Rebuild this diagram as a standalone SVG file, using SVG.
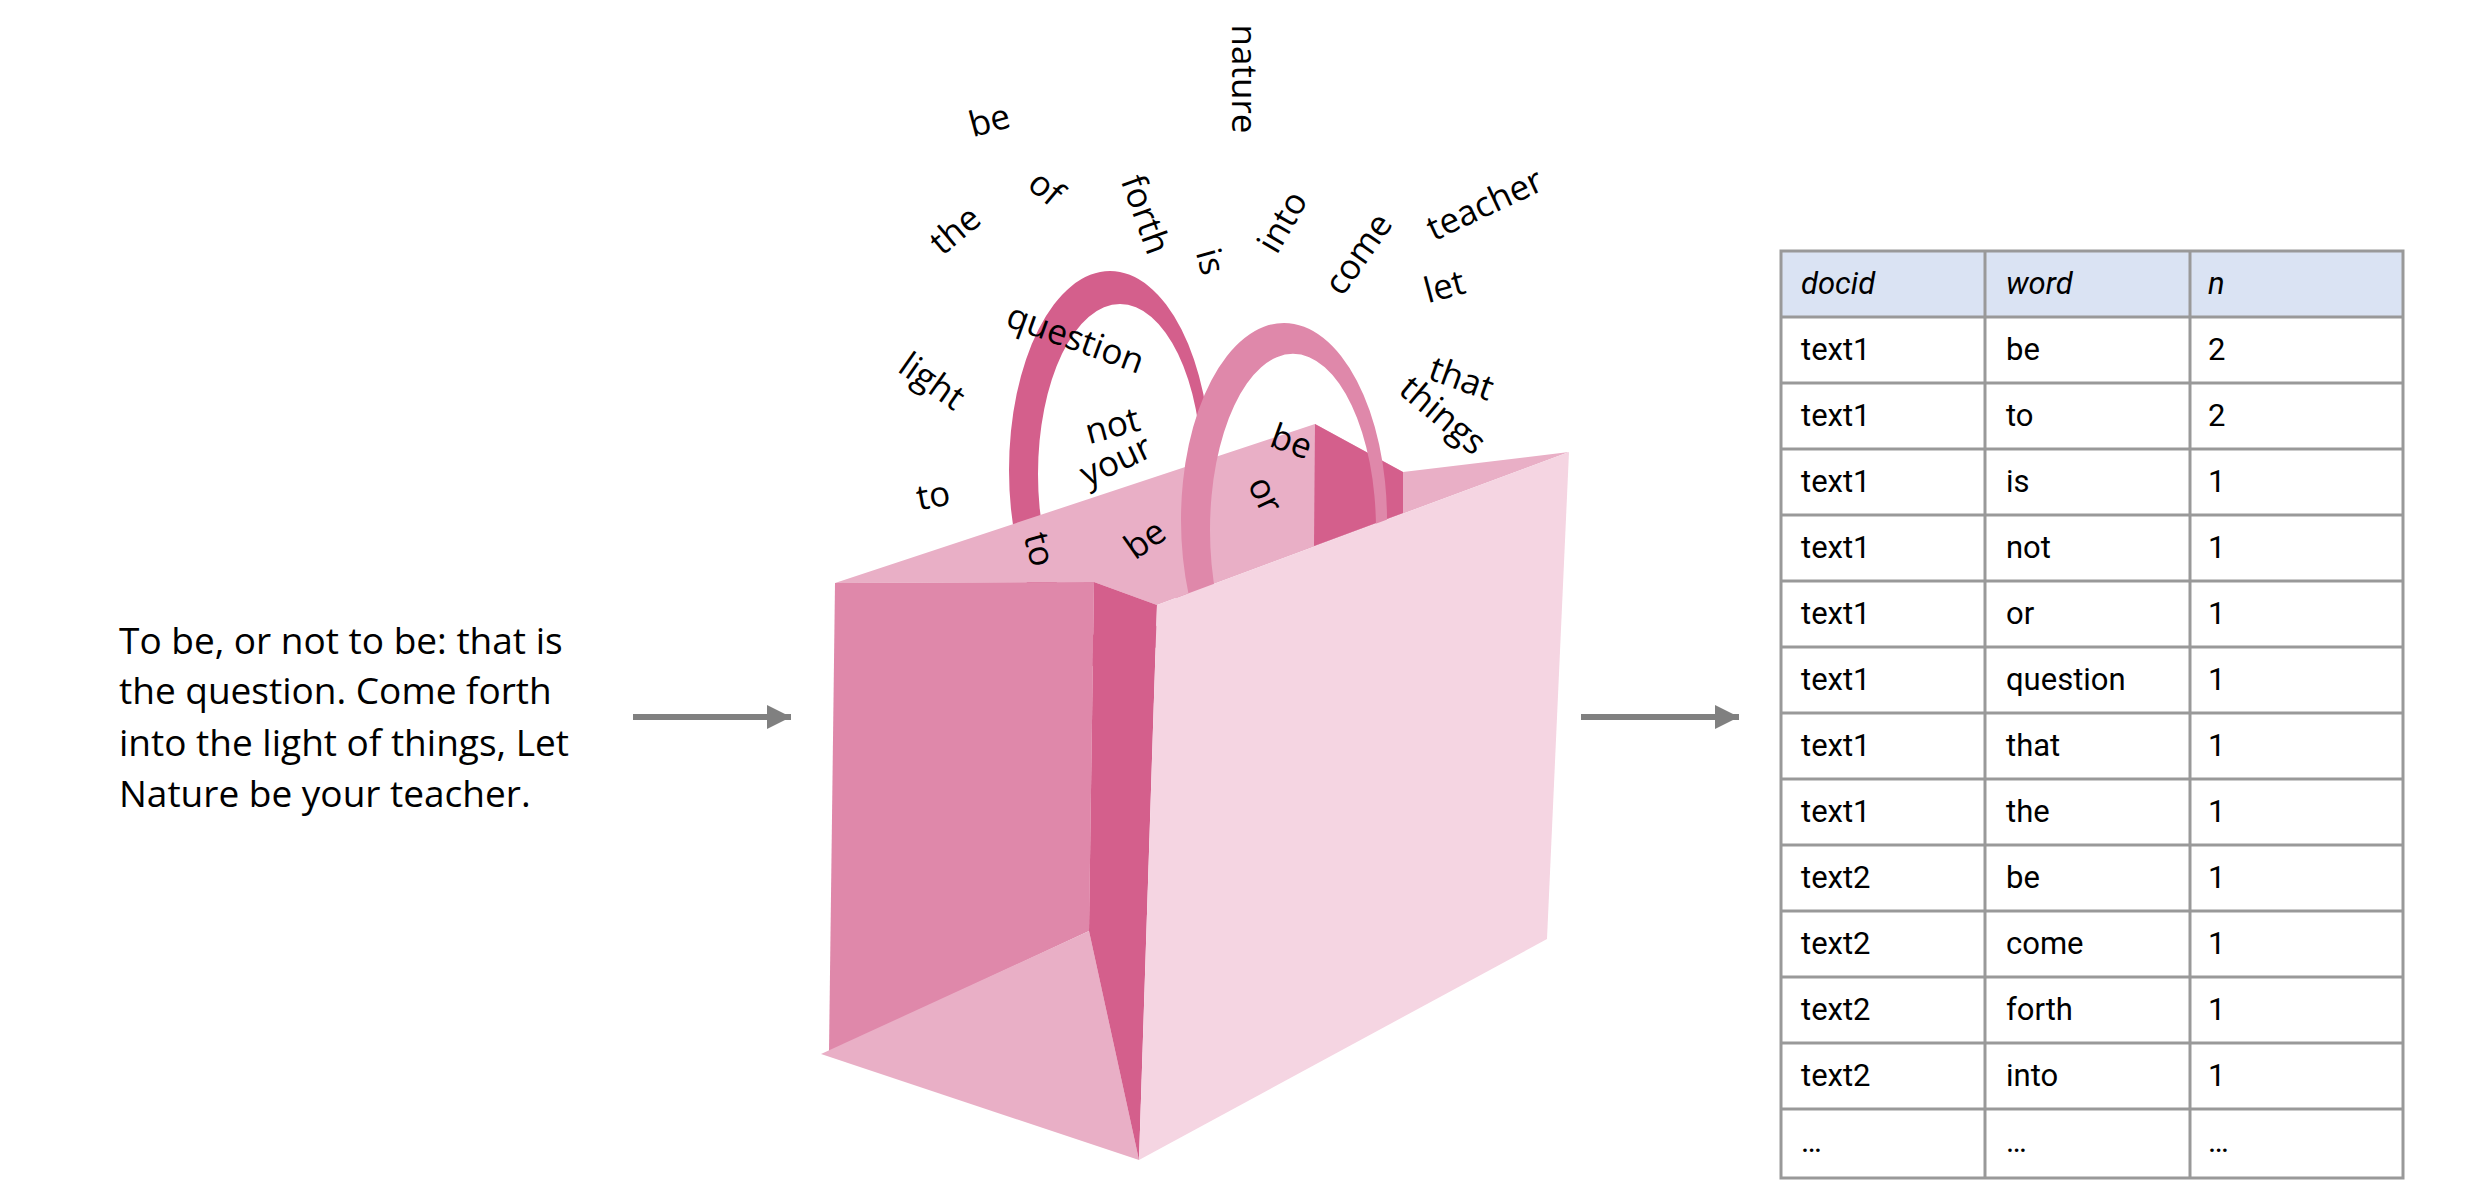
<svg xmlns="http://www.w3.org/2000/svg" width="2481" height="1188" viewBox="0 0 2481 1188">
<style>
.w{font-family:"Open Sans","Liberation Sans",sans-serif;font-size:35px;fill:#000;text-anchor:middle;dominant-baseline:central}
.src{font-family:"Open Sans","Liberation Sans",sans-serif;font-size:37px;fill:#000}
.t{font-family:Roboto,"Liberation Sans",sans-serif;font-size:31px;fill:#000}
.h{font-style:italic}
.g{stroke:#999;stroke-width:3;fill:none}
.arr{stroke:#808080;stroke-width:6;fill:none}
</style>
<defs><marker id="ah" viewBox="0 0 10 10" refX="10" refY="5" markerWidth="6" markerHeight="4" markerUnits="strokeWidth" orient="auto"><path d="M0,0L10,5L0,10z" fill="#808080"/></marker></defs>
<g id="bag">
<path fill="#d45f8c" fill-rule="evenodd" d="M1009,470a101,199 0 1,0 202,0a101,199 0 1,0 -202,0z M1038,474a82,170 0 1,0 164,0a82,170 0 1,0 -164,0z"/>
<polygon fill="#e9afc6" points="835,583 1315,424 1403,472 1569,452 1157,605 1094,582"/>
<polygon fill="#d45f8c" points="1315,424 1403,472 1403,513 1314,546"/>
<path fill="#df88aa" fill-rule="evenodd" d="M1181,520a103,197 0 1,0 206,0a103,197 0 1,0 -206,0z M1210,530a83,176 0 1,0 166,0a83,176 0 1,0 -166,0z"/>
<polygon fill="#df88aa" points="835,583 1094,582 1089,931 829,1052"/>
<polygon fill="#e9afc6" points="821,1054 1089,931 1139,1160"/>
<polygon fill="#d45f8c" points="1094,582 1157,605 1139,1160 1089,931"/>
<polygon fill="#f5d5e2" points="1157,605 1569,452 1547,939 1139,1160"/>
</g>
<g id="words">
<text class="w" transform="translate(1245,79) rotate(90)">nature</text>
<text class="w" transform="translate(989,119) rotate(-15)">be</text>
<text class="w" transform="translate(954,229) rotate(-40)">the</text>
<text class="w" transform="translate(1047,187) rotate(40)">of</text>
<text class="w" transform="translate(1147,214) rotate(70)">forth</text>
<text class="w" transform="translate(1212,261) rotate(75)">is</text>
<text class="w" transform="translate(1281,221) rotate(-60)">into</text>
<text class="w" transform="translate(1357,253) rotate(-55)">come</text>
<text class="w" transform="translate(1484,203) rotate(-25)">teacher</text>
<text class="w" transform="translate(1444,285) rotate(-15)">let</text>
<text class="w" transform="translate(1076,337) rotate(20)">question</text>
<text class="w" transform="translate(933,380) rotate(35)">light</text>
<text class="w" transform="translate(1112,424) rotate(-15)">not</text>
<text class="w" transform="translate(1115,459) rotate(-25)">your</text>
<text class="w" transform="translate(1462,377) rotate(20)">that</text>
<text class="w" transform="translate(1444,414) rotate(40)">things</text>
<text class="w" transform="translate(1292,440) rotate(20)">be</text>
<text class="w" transform="translate(1267,494) rotate(65)">or</text>
<text class="w" transform="translate(933,494) rotate(-10)">to</text>
<text class="w" transform="translate(1041,549) rotate(75)">to</text>
<text class="w" transform="translate(1144,538) rotate(-35)">be</text>
</g>
<g id="source">
<text class="src" x="119" y="654">To be, or not to be: that is</text>
<text class="src" x="119" y="704">the question. Come forth</text>
<text class="src" x="119" y="756">into the light of things, Let</text>
<text class="src" x="119" y="807">Nature be your teacher.</text>
</g>
<g id="connectors">
<line class="arr" x1="633" y1="717" x2="791" y2="717" marker-end="url(#ah)"/>
<line class="arr" x1="1581" y1="717" x2="1739" y2="717" marker-end="url(#ah)"/>
</g>
<g id="table">
<rect x="1781" y="251" width="622" height="66" fill="#dae3f3"/>
<rect x="1781" y="317" width="622" height="861" fill="#fff"/>
<path class="g" d="M1781,251H2403V1178H1781Z M1985,251V1178 M2190,251V1178 M1781,317H2403 M1781,383H2403 M1781,449H2403 M1781,515H2403 M1781,581H2403 M1781,647H2403 M1781,713H2403 M1781,779H2403 M1781,845H2403 M1781,911H2403 M1781,977H2403 M1781,1043H2403 M1781,1109H2403"/>
<text class="t h" x="1801" y="294">docid</text><text class="t h" x="2006" y="294">word</text><text class="t h" x="2208" y="294">n</text>
<text class="t" x="1801" y="360">text1</text><text class="t" x="2006" y="360">be</text><text class="t" x="2208" y="360">2</text>
<text class="t" x="1801" y="426">text1</text><text class="t" x="2006" y="426">to</text><text class="t" x="2208" y="426">2</text>
<text class="t" x="1801" y="492">text1</text><text class="t" x="2006" y="492">is</text><text class="t" x="2208" y="492">1</text>
<text class="t" x="1801" y="558">text1</text><text class="t" x="2006" y="558">not</text><text class="t" x="2208" y="558">1</text>
<text class="t" x="1801" y="624">text1</text><text class="t" x="2006" y="624">or</text><text class="t" x="2208" y="624">1</text>
<text class="t" x="1801" y="690">text1</text><text class="t" x="2006" y="690">question</text><text class="t" x="2208" y="690">1</text>
<text class="t" x="1801" y="756">text1</text><text class="t" x="2006" y="756">that</text><text class="t" x="2208" y="756">1</text>
<text class="t" x="1801" y="822">text1</text><text class="t" x="2006" y="822">the</text><text class="t" x="2208" y="822">1</text>
<text class="t" x="1801" y="888">text2</text><text class="t" x="2006" y="888">be</text><text class="t" x="2208" y="888">1</text>
<text class="t" x="1801" y="954">text2</text><text class="t" x="2006" y="954">come</text><text class="t" x="2208" y="954">1</text>
<text class="t" x="1801" y="1020">text2</text><text class="t" x="2006" y="1020">forth</text><text class="t" x="2208" y="1020">1</text>
<text class="t" x="1801" y="1086">text2</text><text class="t" x="2006" y="1086">into</text><text class="t" x="2208" y="1086">1</text>
<text class="t" x="1801" y="1152">…</text><text class="t" x="2006" y="1152">…</text><text class="t" x="2208" y="1152">…</text>
</g>
</svg>
